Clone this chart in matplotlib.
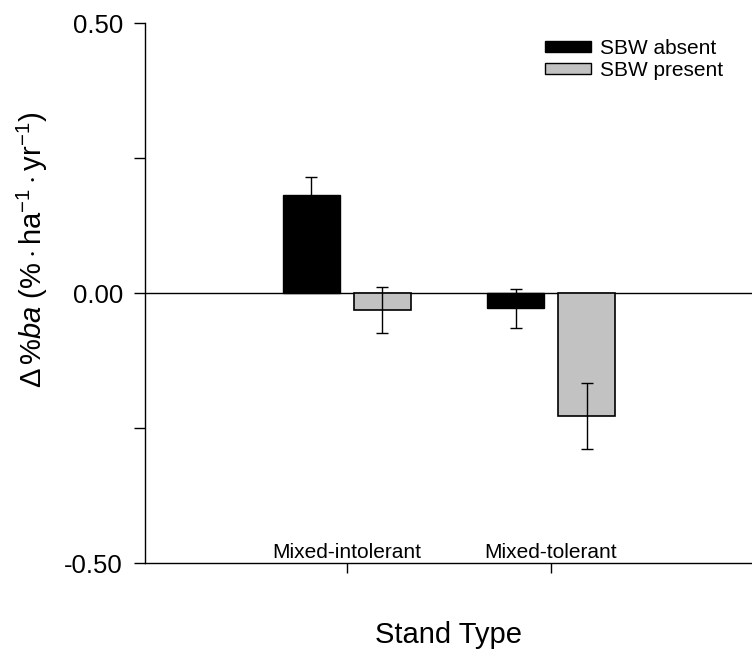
import matplotlib
matplotlib.use("Agg")
import matplotlib.pyplot as plt
import matplotlib.transforms as mtransforms
from matplotlib.patches import Patch
import numpy as np

plt.rcParams['font.family'] = ['Liberation Sans', 'DejaVu Sans']
plt.rcParams['mathtext.fontset'] = 'custom'
plt.rcParams['mathtext.rm'] = 'Liberation Sans'
plt.rcParams['mathtext.it'] = 'Liberation Sans:italic'

categories = ["Mixed-intolerant", "Mixed-tolerant"]
series_names = ["SBW absent", "SBW present"]
absent_vals = [0.181, -0.028]
absent_err = [0.034, 0.036]
present_vals = [-0.031, -0.228]
present_err = [0.043, 0.061]
yticks = [-0.5, 0.0, 0.5]
ytick_labels = ["-0.50", "0.00", "0.50"]

fig = plt.figure(figsize=(7.52, 6.5), dpi=100)
ax = fig.add_axes([0.1928, 0.1338, 0.8072, 0.8308])

x = np.arange(len(categories))
w = 0.284
off = 0.174
gray = '#c2c2c2'
ax.bar(x - off, absent_vals, w, color='black', edgecolor='black', linewidth=1, zorder=2)
ax.bar(x + off, present_vals, w, color=gray, edgecolor='black', linewidth=1.2, zorder=2)
ax.errorbar(x - off, absent_vals, yerr=absent_err, fmt='none', ecolor='black', elinewidth=1, capsize=4, capthick=1, zorder=3)
ax.errorbar(x + off, present_vals, yerr=present_err, fmt='none', ecolor='black', elinewidth=1, capsize=4, capthick=1, zorder=3)

ax.axhline(0, color='black', linewidth=1, zorder=1)

ax.set_xlim(-0.99, 1.985)
ax.set_ylim(-0.5, 0.5)
ax.set_yticks(yticks)
ax.set_yticklabels(ytick_labels, fontsize=18.5)
ax.set_yticks([-0.25, 0.25], minor=True)
ax.tick_params(axis='y', which='both', direction='out', length=8, width=1, pad=8)
ax.set_xticks(x)
ax.set_xticklabels([])
ax.tick_params(axis='x', direction='out', length=7, width=1)

trans = mtransforms.blended_transform_factory(ax.transData, ax.transAxes)
for xi, lab in zip(x, categories):
    ax.text(xi, 0.002, lab, transform=trans, ha='center', va='bottom', fontsize=15)

for s in ['top', 'right']:
    ax.spines[s].set_visible(False)
for s in ['left', 'bottom']:
    ax.spines[s].set_linewidth(1)

ax.set_xlabel("Stand Type", fontsize=21, labelpad=31)
ax.set_ylabel(r"$\mathit{\Delta}\,\%\mathit{ba}\ (\%\cdot \mathrm{ha}^{-1}\cdot \mathrm{yr}^{-1})$", fontsize=21)
ax.yaxis.set_label_coords(-0.157, 0.58)

handles = [Patch(facecolor='black', edgecolor='black'),
           Patch(facecolor=gray, edgecolor='black')]
ax.legend(handles, series_names, loc='upper right', bbox_to_anchor=(0.984, 1.005),
          frameon=False, fontsize=15, handlelength=2.2, handleheight=0.45,
          handletextpad=0.45, labelspacing=0.15)

fig.savefig("out.png", dpi=100)
